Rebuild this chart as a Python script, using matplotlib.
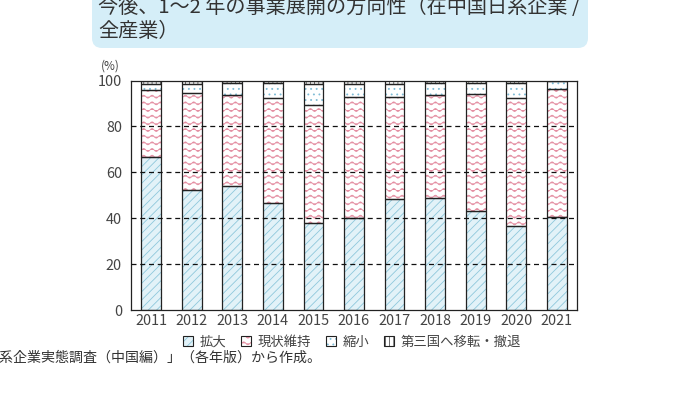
import warnings
import numpy as np
import matplotlib
matplotlib.use('Agg')
import matplotlib.pyplot as plt
import matplotlib.hatch as mhatch
from matplotlib.path import Path
from matplotlib.patches import FancyBboxPatch, Patch
from matplotlib.legend_handler import HandlerTuple

warnings.filterwarnings('ignore')

years = ['2011', '2012', '2013', '2014', '2015', '2016',
         '2017', '2018', '2019', '2020', '2021']
expand = [66.7, 52.2, 53.9, 46.5, 37.8, 40.0, 48.2, 48.7, 43.1, 36.5, 40.7]
keep = [29.3, 42.4, 39.8, 45.9, 51.5, 52.8, 44.6, 45.0, 50.8, 56.0, 55.7]
shrink = [2.6, 4.0, 5.1, 6.4, 9.3, 5.8, 5.8, 5.1, 5.2, 6.3, 3.6]
withdraw = [1.4, 1.4, 1.2, 1.2, 1.4, 1.4, 1.4, 1.2, 0.9, 1.2, 0.0]
labels = ['拡大', '現状維持', '縮小', '第三国へ移転・撤退']

title = '今後、1〜2 年の事業展開の方向性（在中国日系企業 /\n全産業）'
source = '資料：ジェトロ「海外進出日系企業実態調査（中国編）」（各年版）から作成。'


# wavy hatch for the "現状維持" segment
class WaveHatch(mhatch.HatchPatternBase):
    def __init__(self, hatch, density):
        self.num_rows = int(hatch.count('~') * density * 1.25)
        self.num_waves = int(hatch.count('~') * density)
        self.pts = 8 * self.num_waves + 1
        self.num_vertices = self.num_rows * self.pts

    def set_vertices_and_codes(self, vertices, codes):
        x = np.linspace(0, 1, self.pts)
        amp = 0.22 / self.num_rows
        for i in range(self.num_rows):
            y0 = (i + 0.5) / self.num_rows
            s = slice(i * self.pts, (i + 1) * self.pts)
            vertices[s, 0] = x
            vertices[s, 1] = y0 + amp * np.sin(2 * np.pi * self.num_waves * x)
            codes[s] = Path.LINETO
            codes[i * self.pts] = Path.MOVETO


mhatch._hatch_types.append(WaveHatch)

plt.rcParams['font.family'] = ['Noto Sans CJK JP', 'DejaVu Sans']
plt.rcParams['hatch.linewidth'] = 0.6

fig = plt.figure(figsize=(6.75, 4.04), dpi=100)
ax = fig.add_axes([131 / 675, 1 - 310 / 404, 446 / 675, 229.5 / 404])

x = np.arange(len(years))
w = 0.49
styles = [
    dict(facecolor='#e2f2f8', edgecolor='#8ec8dc', hatch='////'),
    dict(facecolor='white', edgecolor='#e48ea2', hatch='~~'),
    dict(facecolor='white', edgecolor='#7fbcd6', hatch='...'),
    dict(facecolor='white', edgecolor='#555555', hatch='||||'),
]
series = [expand, keep, shrink, withdraw]
bottom = np.zeros(len(years))
handles = []
for vals, st, lab in zip(series, styles, labels):
    ax.bar(x, vals, w, bottom=bottom, linewidth=0, zorder=1, **st)
    ax.bar(x, vals, w, bottom=bottom, fill=False, edgecolor='#222222',
           linewidth=0.9, zorder=1.5)
    bottom += np.array(vals)
    handles.append((Patch(linewidth=0, **st),
                    Patch(fill=False, edgecolor='#222222', linewidth=0.8)))

ax.set_xlim(-0.5, len(years) - 0.5)
ax.set_ylim(0, 100)
ax.set_yticks(range(0, 101, 20))
ax.set_xticks(x)
ax.set_xticklabels(years)
ax.tick_params(length=0, labelsize=10.4, colors='#444444')
ax.tick_params(axis='y', pad=6.5)
ax.tick_params(axis='x', pad=3)
for sp in ax.spines.values():
    sp.set_color('#222222')
    sp.set_linewidth(0.9)

for v in range(20, 100, 20):
    ax.axhline(v, color='#111111', linewidth=0.9, linestyle=(0, (4, 3)), zorder=3)

ax.text(-0.047, 1.063, '(%)', transform=ax.transAxes, fontsize=8.5,
        color='#444444', ha='center', va='center')

ax.legend(handles, labels, handler_map={tuple: HandlerTuple(ndivide=1, pad=0)},
          loc='center', bbox_to_anchor=(352 / 675, 1 - 342 / 404),
          bbox_transform=fig.transFigure, ncol=4, frameon=False,
          fontsize=9.6, handlelength=0.75, handleheight=0.75,
          handletextpad=0.5, columnspacing=1.1, labelcolor='#444444')

# title box
box = FancyBboxPatch((0.92, 3.56), 4.96, 0.7,
                     boxstyle='round,pad=0,rounding_size=0.1',
                     transform=fig.dpi_scale_trans, facecolor='#d5eef8',
                     edgecolor='none', zorder=0)
fig.patches.append(box)
fig.text(0.98, 3.845, title, transform=fig.dpi_scale_trans, fontsize=14.5,
         color='#333333', ha='left', va='center', linespacing=1.18)

fig.text(3.21, 4.04 - 3.58, source, transform=fig.dpi_scale_trans,
         fontsize=10.1, color='#333333', ha='right', va='center')

fig.savefig('out.png', dpi=100)
